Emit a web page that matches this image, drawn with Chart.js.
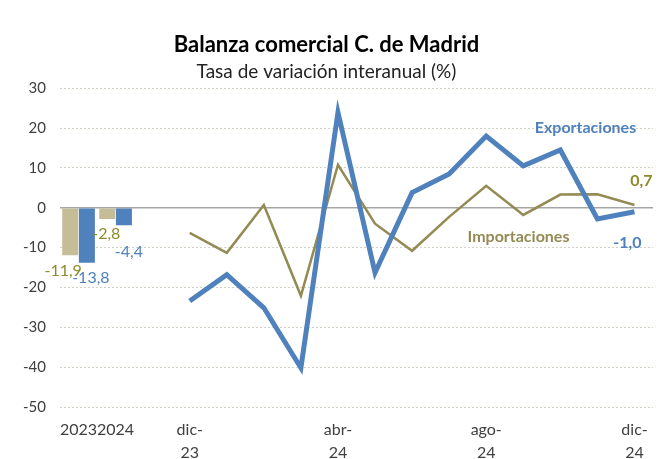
<!DOCTYPE html>
<html lang="es">
<head>
    <meta charset="UTF-8">
    <title>Balanza comercial C. de Madrid</title>
    <script src="https://cdn.jsdelivr.net/npm/chart.js"></script>
    <style>
        body { margin: 0; background: #fff; }
    </style>
</head>
<body>
    <canvas id="myChart" width="659" height="459"></canvas>
    <script>
        // Datos
        const categories = ['2023', '2024', '', 'dic-23', 'ene-24', 'feb-24', 'mar-24', 'abr-24', 'may-24',
            'jun-24', 'jul-24', 'ago-24', 'sep-24', 'oct-24', 'nov-24', 'dic-24'];
        const tickLabels = ['2023', '2024', '', 'dic-23', '', '', '', 'abr-24', '', '', '', 'ago-24', '', '', '', 'dic-24'];
        const importsYear = [-11.9, -2.8];
        const exportsYear = [-13.8, -4.4];
        const importsMonth = [-6.3, -11.3, 0.7, -22.1, 10.8, -4.0, -10.8, -2.3, 5.5, -1.8, 3.3, 3.4, 0.7];
        const exportsMonth = [-23.4, -16.8, -25.1, -40.2, 23.9, -16.3, 3.8, 8.5, 18.0, 10.5, 14.5, -2.8, -1.0];
        const yTicks = [30, 20, 10, 0, -10, -20, -30, -40, -50];

        const pad = (arr, before, total) => {
            const out = new Array(before).fill(null).concat(arr);
            while (out.length < total) out.push(null);
            return out;
        };
        const n = categories.length;

        const BLUE = '#4f81bd';
        const TAN = '#c4bd97';
        const OLIVE = '#948a54';
        const OLIVE_TXT = '#8c8a2a';

        // etiquetas de texto: [texto, dataset, indice, dx, dy, color, negrita]
        const labelsToDraw = [
            ['-11,9', 0, 0, -7, 16, OLIVE_TXT, false],
            ['-13,8', 1, 0, 4, 15, BLUE, false],
            ['-2,8', 0, 1, -1, 15, OLIVE_TXT, false],
            ['-4,4', 1, 1, 5, 27, BLUE, false],
            ['0,7', 2, 15, 7, -24, OLIVE_TXT, true],
            ['-1,0', 3, 15, -7, 31, BLUE, true],
            ['Exportaciones', 3, 15, -49, -84, BLUE, true],
            ['Importaciones', 2, 15, -116, 32, OLIVE, true]
        ];

        const textPlugin = {
            id: 'textLabels',
            afterDatasetsDraw(chart) {
                const ctx = chart.ctx;
                ctx.save();
                ctx.textAlign = 'center';
                ctx.textBaseline = 'middle';
                labelsToDraw.forEach(l => {
                    const el = chart.getDatasetMeta(l[1]).data[l[2]];
                    const yVal = chart.data.datasets[l[1]].data[l[2]];
                    const x = el.x;
                    const y = chart.scales.y.getPixelForValue(yVal);
                    ctx.font = (l[6] ? 'bold ' : '') + '16px Lato, sans-serif';
                    ctx.fillStyle = l[5];
                    ctx.fillText(l[0], x + l[3], y + l[4]);
                });
                ctx.restore();
            }
        };

        const ctx = document.getElementById('myChart').getContext('2d');
        new Chart(ctx, {
            data: {
                labels: categories,
                datasets: [
                    {
                        type: 'bar',
                        label: 'Importaciones',
                        data: pad(importsYear, 0, n),
                        backgroundColor: TAN,
                        categoryPercentage: 0.9,
                        barPercentage: 0.96,
                        order: 2
                    },
                    {
                        type: 'bar',
                        label: 'Exportaciones',
                        data: pad(exportsYear, 0, n),
                        backgroundColor: BLUE,
                        categoryPercentage: 0.9,
                        barPercentage: 0.96,
                        order: 2
                    },
                    {
                        type: 'line',
                        label: 'Importaciones',
                        data: pad(importsMonth, 3, n),
                        borderColor: OLIVE,
                        borderWidth: 2.5,
                        pointRadius: 0,
                        tension: 0,
                        order: 1
                    },
                    {
                        type: 'line',
                        label: 'Exportaciones',
                        data: pad(exportsMonth, 3, n),
                        borderColor: BLUE,
                        borderWidth: 5,
                        pointRadius: 0,
                        tension: 0,
                        order: 0
                    }
                ]
            },
            options: {
                responsive: false,
                animation: false,
                layout: { padding: { left: 0, right: 6, top: 0, bottom: 0 } },
                scales: {
                    x: {
                        offset: true,
                        afterFit: s => { s.height = 52; },
                        grid: { display: false },
                        border: { display: false },
                        ticks: {
                            autoSkip: false,
                            maxRotation: 0,
                            color: '#404040',
                            font: { family: 'Lato', size: 16, lineHeight: 1.45 },
                            padding: 3,
                            callback: (v, i) => {
                                const t = tickLabels[i];
                                if (t.includes('-')) {
                                    const p = t.split('-');
                                    return [p[0] + '-', p[1]];
                                }
                                return t;
                            }
                        }
                    },
                    y: {
                        min: -50,
                        max: 30,
                        afterBuildTicks: s => { s.ticks = yTicks.map(v => ({ value: v })); },
                        afterFit: s => { s.width = 60; },
                        border: {
                            display: false,
                            dash: c => (c.tick && c.tick.value === 0) ? [] : [2, 2]
                        },
                        grid: {
                            color: c => c.tick.value === 0 ? '#a6a6a6' : '#d3d0c6',
                            lineWidth: c => c.tick.value === 0 ? 1.5 : 1,
                            tickLength: 0
                        },
                        ticks: {
                            color: '#404040',
                            font: { family: 'Lato', size: 15 },
                            padding: 14
                        }
                    }
                },
                plugins: {
                    legend: { display: false },
                    tooltip: { enabled: false },
                    title: {
                        display: true,
                        text: 'Balanza comercial C. de Madrid',
                        color: '#000',
                        font: { family: 'Lato', size: 22, weight: 'bold' },
                        padding: { top: 32, bottom: 2 }
                    },
                    subtitle: {
                        display: true,
                        text: 'Tasa de variación interanual (%)',
                        color: '#222',
                        font: { family: 'Lato', size: 19 },
                        padding: { top: 0, bottom: 5 }
                    }
                }
            },
            plugins: [textPlugin]
        });
    </script>
</body>
</html>
